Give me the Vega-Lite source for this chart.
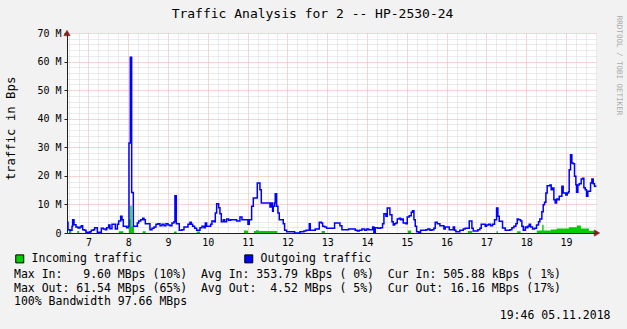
{
  "$schema": "https://vega.github.io/schema/vega-lite/v6.json",
  "width": 530,
  "height": 200,
  "autosize": {"type": "none"},
  "padding": {"left": 67, "top": 33, "right": 30, "bottom": 96},
  "background": "#f2f2f2",
  "title": {"text": "Traffic Analysis for 2 -- HP-2530-24", "font": "DejaVu Sans Mono", "fontSize": 13, "fontWeight": "normal", "color": "#000000", "anchor": "middle", "dx": -19.5, "dy": 28.7, "baseline": "alphabetic", "offset": 13},
  "config": {
    "view": {"fill": "#ffffff", "stroke": null},
    "font": "DejaVu Sans Mono"
  },
  "datasets": {
    "out": [
      {"t":6.46,"v":3.73},{"t":6.485,"v":1.17},{"t":6.535,"v":0.93},{"t":6.586,"v":2.33},{"t":6.602,"v":4.67},{"t":6.636,"v":2.92},{"t":6.686,"v":2.1},{"t":6.736,"v":1.75},{"t":6.787,"v":2.1},{"t":6.82,"v":2.57},{"t":6.854,"v":1.17},{"t":6.904,"v":0.93},{"t":6.937,"v":0.23},{"t":7.038,"v":0.47},{"t":7.071,"v":0.93},{"t":7.122,"v":1.17},{"t":7.155,"v":1.87},{"t":7.222,"v":0.23},{"t":7.323,"v":1.63},{"t":7.373,"v":1.4},{"t":7.423,"v":1.17},{"t":7.457,"v":1.87},{"t":7.507,"v":2.8},{"t":7.54,"v":1.52},{"t":7.591,"v":3.03},{"t":7.674,"v":1.4},{"t":7.725,"v":3.03},{"t":7.758,"v":4.2},{"t":7.808,"v":5.83},{"t":7.842,"v":4.67},{"t":7.875,"v":2.33},{"t":7.959,"v":1.87},{"t":8.001,"v":2.33},{"t":8.018,"v":31.5},{"t":8.051,"v":61.54},{"t":8.085,"v":14.2},{"t":8.127,"v":2.33},{"t":8.227,"v":3.5},{"t":8.261,"v":4.2},{"t":8.311,"v":4.67},{"t":8.361,"v":5.13},{"t":8.395,"v":4.67},{"t":8.428,"v":3.27},{"t":8.545,"v":1.17},{"t":8.596,"v":1.63},{"t":8.646,"v":2.1},{"t":8.696,"v":3.03},{"t":8.746,"v":3.27},{"t":8.797,"v":2.57},{"t":8.847,"v":3.03},{"t":8.897,"v":2.57},{"t":8.947,"v":3.27},{"t":8.998,"v":2.8},{"t":9.048,"v":2.57},{"t":9.098,"v":3.5},{"t":9.148,"v":3.97},{"t":9.173,"v":13.0},{"t":9.207,"v":3.27},{"t":9.282,"v":0.93},{"t":9.349,"v":1.17},{"t":9.4,"v":2.1},{"t":9.5,"v":3.03},{"t":9.55,"v":3.73},{"t":9.584,"v":3.03},{"t":9.618,"v":2.33},{"t":9.668,"v":1.63},{"t":9.718,"v":0.93},{"t":9.802,"v":1.87},{"t":9.852,"v":2.33},{"t":9.902,"v":1.87},{"t":9.936,"v":3.5},{"t":9.969,"v":2.33},{"t":10.07,"v":3.03},{"t":10.103,"v":4.2},{"t":10.153,"v":3.97},{"t":10.187,"v":7.0},{"t":10.221,"v":10.27},{"t":10.271,"v":8.87},{"t":10.304,"v":6.77},{"t":10.338,"v":3.97},{"t":10.388,"v":4.67},{"t":10.421,"v":3.97},{"t":10.472,"v":4.9},{"t":10.522,"v":4.43},{"t":10.572,"v":4.67},{"t":10.723,"v":4.2},{"t":10.807,"v":5.6},{"t":10.857,"v":4.67},{"t":11.008,"v":3.03},{"t":11.041,"v":4.67},{"t":11.1,"v":9.33},{"t":11.142,"v":12.25},{"t":11.242,"v":17.5},{"t":11.309,"v":15.17},{"t":11.343,"v":10.5},{"t":11.561,"v":9.1},{"t":11.594,"v":10.5},{"t":11.628,"v":7.58},{"t":11.644,"v":9.33},{"t":11.678,"v":10.5},{"t":11.694,"v":13.77},{"t":11.728,"v":9.33},{"t":11.761,"v":7.0},{"t":11.795,"v":4.67},{"t":11.895,"v":3.27},{"t":11.929,"v":0.93},{"t":11.979,"v":0.47},{"t":12.18,"v":0.0},{"t":12.314,"v":0.47},{"t":12.415,"v":0.7},{"t":12.465,"v":0.93},{"t":12.549,"v":3.27},{"t":12.574,"v":0.93},{"t":12.699,"v":1.4},{"t":12.8,"v":3.73},{"t":12.85,"v":3.5},{"t":12.884,"v":2.33},{"t":12.934,"v":2.1},{"t":12.984,"v":1.63},{"t":13.185,"v":3.5},{"t":13.319,"v":2.57},{"t":13.369,"v":1.17},{"t":13.537,"v":1.4},{"t":13.705,"v":0.93},{"t":13.755,"v":0.7},{"t":13.805,"v":0.93},{"t":13.872,"v":1.4},{"t":13.939,"v":0.93},{"t":13.989,"v":1.4},{"t":14.04,"v":1.17},{"t":14.14,"v":2.1},{"t":14.173,"v":0.23},{"t":14.207,"v":1.87},{"t":14.274,"v":1.63},{"t":14.341,"v":1.87},{"t":14.391,"v":3.27},{"t":14.425,"v":6.77},{"t":14.475,"v":5.83},{"t":14.508,"v":8.75},{"t":14.575,"v":6.42},{"t":14.626,"v":3.97},{"t":14.659,"v":2.8},{"t":14.693,"v":3.27},{"t":14.726,"v":3.5},{"t":14.76,"v":4.9},{"t":14.81,"v":5.13},{"t":14.844,"v":4.67},{"t":14.877,"v":4.9},{"t":14.91,"v":3.5},{"t":14.977,"v":3.27},{"t":15.011,"v":5.6},{"t":15.061,"v":6.07},{"t":15.112,"v":7.23},{"t":15.145,"v":7.82},{"t":15.179,"v":4.67},{"t":15.212,"v":2.33},{"t":15.246,"v":0.47},{"t":15.296,"v":0.23},{"t":15.346,"v":0.93},{"t":15.48,"v":1.17},{"t":15.53,"v":1.4},{"t":15.58,"v":0.93},{"t":15.631,"v":1.17},{"t":15.681,"v":1.63},{"t":15.714,"v":3.73},{"t":15.765,"v":3.27},{"t":15.832,"v":2.57},{"t":15.932,"v":1.4},{"t":15.966,"v":2.1},{"t":16.066,"v":1.17},{"t":16.167,"v":2.1},{"t":16.2,"v":0.93},{"t":16.234,"v":0.47},{"t":16.334,"v":0.93},{"t":16.418,"v":1.4},{"t":16.468,"v":1.63},{"t":16.569,"v":4.2},{"t":16.636,"v":1.63},{"t":16.669,"v":0.7},{"t":16.787,"v":1.17},{"t":16.837,"v":1.63},{"t":16.87,"v":3.03},{"t":16.971,"v":2.33},{"t":17.004,"v":2.8},{"t":17.055,"v":3.03},{"t":17.105,"v":2.57},{"t":17.155,"v":3.03},{"t":17.205,"v":4.67},{"t":17.256,"v":8.75},{"t":17.289,"v":5.83},{"t":17.323,"v":4.08},{"t":17.406,"v":1.75},{"t":17.473,"v":0.93},{"t":17.591,"v":1.17},{"t":17.641,"v":1.87},{"t":17.691,"v":2.33},{"t":17.741,"v":3.27},{"t":17.775,"v":4.9},{"t":17.808,"v":4.67},{"t":17.859,"v":4.2},{"t":17.892,"v":2.33},{"t":17.926,"v":0.93},{"t":17.976,"v":2.1},{"t":18.009,"v":1.87},{"t":18.043,"v":2.33},{"t":18.076,"v":3.03},{"t":18.11,"v":2.1},{"t":18.16,"v":1.4},{"t":18.21,"v":1.63},{"t":18.26,"v":2.8},{"t":18.311,"v":3.97},{"t":18.344,"v":4.9},{"t":18.394,"v":7.47},{"t":18.428,"v":9.92},{"t":18.461,"v":10.73},{"t":18.495,"v":14.0},{"t":18.528,"v":16.57},{"t":18.595,"v":16.8},{"t":18.629,"v":15.17},{"t":18.662,"v":15.75},{"t":18.696,"v":11.67},{"t":18.729,"v":10.5},{"t":18.763,"v":11.9},{"t":18.796,"v":11.67},{"t":18.83,"v":12.83},{"t":18.897,"v":16.33},{"t":18.93,"v":14.0},{"t":18.997,"v":13.3},{"t":19.031,"v":14.0},{"t":19.064,"v":14.47},{"t":19.081,"v":22.17},{"t":19.115,"v":27.42},{"t":19.148,"v":24.5},{"t":19.182,"v":24.27},{"t":19.215,"v":19.83},{"t":19.249,"v":16.92},{"t":19.266,"v":14.23},{"t":19.299,"v":16.8},{"t":19.333,"v":17.27},{"t":19.383,"v":18.9},{"t":19.417,"v":19.13},{"t":19.45,"v":15.87},{"t":19.484,"v":15.17},{"t":19.517,"v":12.83},{"t":19.55,"v":14.58},{"t":19.618,"v":17.5},{"t":19.651,"v":18.9},{"t":19.685,"v":17.27},{"t":19.718,"v":16.33},{"t":19.75,"v":16.16}
    ],
    "in": [
      {"t":6.46,"v":0},{"t":6.51,"v":1.2},{"t":6.568,"v":0},{"t":6.719,"v":0.7},{"t":6.762,"v":0},{"t":7.767,"v":0.6},{"t":7.875,"v":0},{"t":8.018,"v":4.7},{"t":8.05,"v":9.6},{"t":8.086,"v":2.3},{"t":8.144,"v":0},{"t":8.362,"v":0.6},{"t":8.437,"v":0},{"t":9.148,"v":0.5},{"t":9.216,"v":0},{"t":9.719,"v":0.5},{"t":9.802,"v":0},{"t":10.907,"v":0.9},{"t":11.008,"v":0},{"t":11.158,"v":0.7},{"t":11.209,"v":1.0},{"t":11.277,"v":0.7},{"t":11.744,"v":0},{"t":12.859,"v":0.7},{"t":12.942,"v":0},{"t":15.028,"v":0.9},{"t":15.111,"v":0},{"t":16.535,"v":0.7},{"t":16.643,"v":0},{"t":17.256,"v":0.6},{"t":17.289,"v":0},{"t":17.774,"v":0.6},{"t":17.86,"v":0},{"t":18.269,"v":0.9},{"t":18.403,"v":2.9},{"t":18.438,"v":0.9},{"t":18.621,"v":1.2},{"t":18.771,"v":1.6},{"t":19.073,"v":2.0},{"t":19.274,"v":2.6},{"t":19.375,"v":1.6},{"t":19.576,"v":0.8},{"t":19.701,"v":0.5},{"t":19.75,"v":0.5}
    ],
    "axisends": [
      {"t": 6.46, "v": 70, "axis": "y"},
      {"t": 19.78, "v": 0, "axis": "x"}
    ]
  },
  "encoding": {
    "x": {
      "field": "t", "type": "quantitative",
      "scale": {"domain": [6.46, 19.78], "nice": false, "zero": false},
      "axis": {
        "title": "19:46 05.11.2018",
        "titleFont": "DejaVu Sans Mono",
        "titleFontSize": 11.5,
        "titleFontWeight": "normal",
        "titleColor": "#000000",
        "titleX": 543,
        "titleY": 85.5,
        "titleAlign": "right",
        "titleBaseline": "alphabetic",
        "values": [6.5,6.75,7,7.25,7.5,7.75,8,8.25,8.5,8.75,9,9.25,9.5,9.75,10,10.25,10.5,10.75,11,11.25,11.5,11.75,12,12.25,12.5,12.75,13,13.25,13.5,13.75,14,14.25,14.5,14.75,15,15.25,15.5,15.75,16,16.25,16.5,16.75,17,17.25,17.5,17.75,18,18.25,18.5,18.75,19,19.25,19.5,19.75],
        "grid": true,
        "gridColor": {"condition": {"test": "datum.value % 1 === 0", "value": "#eeaaaa"}, "value": "#d6d6d6"},
        "gridDash": [1, 1],
        "gridWidth": 1,
        "domainColor": "#1f1f1f",
        "domainWidth": 1,
        "ticks": false,
        "labelExpr": "datum.value % 1 === 0 ? (datum.value < 10 ? '\u00a0' + datum.value : '' + datum.value) : ''",
        "labelFont": "DejaVu Sans Mono",
        "labelFontSize": 10,
        "labelColor": "#000000",
        "labelPadding": 4,
        "labelFlush": false,
        "labelOverlap": false,
        "labelBound": false
      }
    },
    "y": {
      "field": "v", "type": "quantitative",
      "scale": {"domain": [0, 70], "nice": false, "zero": true},
      "axis": {
        "title": "traffic in Bps",
        "titleFont": "DejaVu Sans Mono",
        "titleFontSize": 12.3,
        "titleFontWeight": "normal",
        "titleColor": "#000000",
        "titleAngle": -90,
        "titleX": -56.7,
        "titleY": 95,
        "titleAlign": "center",
        "titleBaseline": "middle",
        "values": [0,2,4,6,8,10,12,14,16,18,20,22,24,26,28,30,32,34,36,38,40,42,44,46,48,50,52,54,56,58,60,62,64,66,68,70],
        "grid": true,
        "gridColor": {"condition": {"test": "datum.value % 10 === 0", "value": "#eeaaaa"}, "value": "#d6d6d6"},
        "gridDash": [1, 1],
        "gridWidth": 1,
        "domainColor": "#1f1f1f",
        "domainWidth": 1,
        "tickSize": 3,
        "tickColor": {"condition": {"test": "datum.value % 10 === 0", "value": "#1f1f1f"}, "value": "transparent"},
        "labelExpr": "datum.value % 10 === 0 ? (datum.value === 0 ? '0\u00a0\u00a0' : datum.value + '\u00a0M') : ''",
        "labelFont": "DejaVu Sans Mono",
        "labelFontSize": 10,
        "labelColor": "#000000",
        "labelPadding": 3,
        "labelOverlap": false,
        "labelBound": false,
        "labelFlush": false
      }
    }
  },
  "layer": [
    {
      "data": {"name": "in"},
      "mark": {"type": "area", "interpolate": "step-after", "opacity": 1},
      "encoding": {
        "color": {
          "datum": "Incoming traffic",
          "scale": {"domain": ["Incoming traffic", "Outgoing traffic"], "range": ["#00cc00", "#0000ff"]},
          "legend": {
            "orient": "none",
            "legendX": -53,
            "legendY": 220,
            "direction": "horizontal",
            "padding": 0,
            "symbolType": "square",
            "symbolSize": 64,
            "symbolStrokeColor": "#000000",
            "symbolStrokeWidth": 1,
            "symbolOpacity": 1,
            "labelFont": "DejaVu Sans Mono",
            "labelFontSize": 11.5,
            "labelColor": "#000000",
            "labelOffset": 6,
            "labelLimit": 400,
            "columnPadding": 99,
            "title": [
              "Max In:\u00a0\u00a0\u00a09.60\u00a0MBps\u00a0(10%)\u00a0\u00a0Avg\u00a0In:\u00a0353.79\u00a0kBps\u00a0(\u00a00%)\u00a0\u00a0Cur\u00a0In:\u00a0505.88\u00a0kBps\u00a0(\u00a01%)",
              "Max\u00a0Out:\u00a061.54\u00a0MBps\u00a0(65%)\u00a0\u00a0Avg\u00a0Out:\u00a0\u00a04.52\u00a0MBps\u00a0(\u00a05%)\u00a0\u00a0Cur\u00a0Out:\u00a016.16\u00a0MBps\u00a0(17%)",
              "100%\u00a0Bandwidth\u00a097.66\u00a0MBps"
            ],
            "titleOrient": "bottom",
            "titleAnchor": "start",
            "titleAlign": "left",
            "titleBaseline": "top",
            "titleFont": "DejaVu Sans Mono",
            "titleFontSize": 11.5,
            "titleFontWeight": "normal",
            "titleColor": "#000000",
            "titleLimit": 1000,
            "titleLineHeight": 13.7,
            "titlePadding": 4
          }
        }
      }
    },
    {
      "data": {"name": "out"},
      "mark": {"type": "line", "interpolate": "step-after", "color": "#0000ff", "strokeWidth": 1.5},
      "encoding": {
        "y": {
          "field": "v", "type": "quantitative",
          "axis": {
            "orient": "right",
            "title": "RRDTOOL / TOBI OETIKER",
            "titleFont": "DejaVu Sans Mono",
            "titleFontSize": 7.5,
            "titleFontWeight": "normal",
            "titleColor": "#aaaaaa",
            "titleAngle": 90,
            "titleX": 21.5,
            "titleY": 32,
            "titleAlign": "center",
            "titleBaseline": "middle",
            "labels": false,
            "ticks": false,
            "domain": false,
            "grid": false
          }
        }
      }
    },
    {
      "data": {"name": "axisends"},
      "mark": {"type": "point", "filled": true, "fill": "#7f1f1f", "stroke": "#7f1f1f", "strokeWidth": 0.5, "size": 40, "opacity": 1, "fillOpacity": 1, "clip": false},
      "encoding": {
        "y": {"field": "v", "type": "quantitative", "axis": null},
        "shape": {"field": "axis", "type": "nominal", "scale": {"domain": ["y", "x"], "range": ["triangle-up", "triangle-right"]}, "legend": null},
        "xOffset": {"condition": {"test": "datum.axis === 'x'", "value": 4}, "value": 0},
        "yOffset": {"condition": {"test": "datum.axis === 'y'", "value": -4.5}, "value": 0}
      }
    }
  ],
  "resolve": {"axis": {"y": "independent"}}
}
